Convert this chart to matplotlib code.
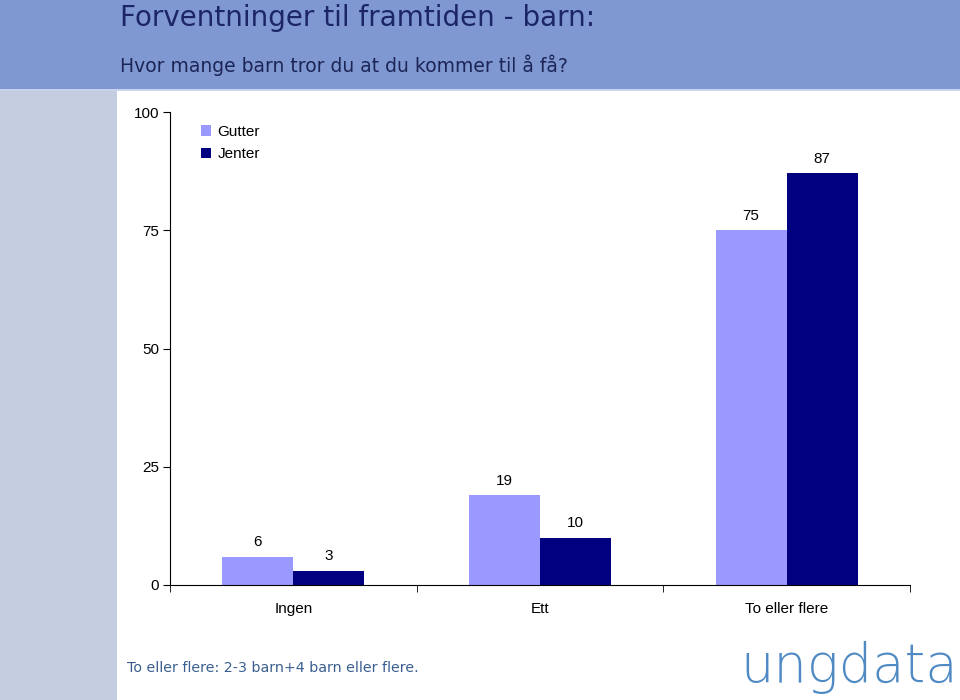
import matplotlib
matplotlib.use("Agg")
import matplotlib.pyplot as plt
from matplotlib.patches import Rectangle
import numpy as np

categories = ["Ingen", "Ett", "To eller flere"]
gutter = [6, 19, 75]
jenter = [3, 10, 87]
yticks = [0, 25, 50, 75, 100]

title = "Forventninger til framtiden - barn:"
subtitle = "Hvor mange barn tror du at du kommer til å få?"
footnote = "To eller flere: 2-3 barn+4 barn eller flere."

plt.rcParams["font.family"] = ["Liberation Sans", "DejaVu Sans"]

fig = plt.figure(figsize=(9.6, 7.0), dpi=100)
fig.patch.set_facecolor("white")

# bakgrunn: topptekst og venstre kolonne
fig.patches.append(Rectangle((0, 1 - 89 / 700), 1, 89 / 700, transform=fig.transFigure,
                             facecolor="#8098d2", edgecolor="none", zorder=0))
fig.patches.append(Rectangle((0, 1 - 91 / 700), 1, 2 / 700, transform=fig.transFigure,
                             facecolor="#c9d3ee", edgecolor="none", zorder=0))
fig.patches.append(Rectangle((0, 0), 117 / 960, 1 - 91 / 700, transform=fig.transFigure,
                             facecolor="#c4cde0", edgecolor="none", zorder=0))

fig.text(120 / 960, 1 - 18 / 700, title, family="DejaVu Sans", fontsize=20,
         color="#1c2566", va="center", ha="left")
fig.text(120 / 960, 1 - 65 / 700, subtitle, family="DejaVu Sans", fontsize=13.5,
         color="#1c2555", va="center", ha="left")
fig.text(127 / 960, 1 - 668 / 700, footnote, family="DejaVu Sans", fontsize=10.3,
         color="#3a5f8f", va="center", ha="left")
fig.text(958 / 960, 1 - 668 / 700, "ungdata", family="DejaVu Sans", fontsize=38,
         fontweight="light", color="#4f8ac4", va="center", ha="right")

ax = fig.add_axes([170 / 960, 1 - 585 / 700, 740 / 960, 473 / 700])
ax.set_facecolor("none")

x = np.arange(len(categories))
w = 0.288
b1 = ax.bar(x - w / 2, gutter, w, color="#9999ff", label="Gutter")
b2 = ax.bar(x + w / 2, jenter, w, color="#000080", label="Jenter")

for bars, vals in ((b1, gutter), (b2, jenter)):
    for r, v in zip(bars, vals):
        ax.annotate(str(v), (r.get_x() + r.get_width() / 2, v),
                    xytext=(0, 7.5), textcoords="offset points",
                    ha="center", va="baseline", fontsize=11, color="black")

ax.set_xlim(-0.5, len(categories) - 0.5)
ax.set_ylim(0, 100)
ax.set_yticks(yticks)
ax.set_yticklabels([str(t) for t in yticks], fontsize=11)
ax.set_xticks(x)
ax.set_xticklabels(categories, fontsize=11)
ax.tick_params(axis="x", length=0, pad=12)
ax.set_xticks(np.arange(len(categories) + 1) - 0.5, minor=True)
ax.tick_params(axis="x", which="minor", length=5, direction="out")
ax.tick_params(axis="y", length=5, direction="out", pad=3)

for s in ("top", "right"):
    ax.spines[s].set_visible(False)
ax.spines["left"].set_color("black")
ax.spines["bottom"].set_color("black")

ax.legend(loc="upper left", bbox_to_anchor=(0.023, 1.002), frameon=False,
          fontsize=11, handlelength=0.7, handleheight=0.7, handletextpad=0.4,
          labelspacing=0.55)

fig.savefig("out.png", dpi=100)
